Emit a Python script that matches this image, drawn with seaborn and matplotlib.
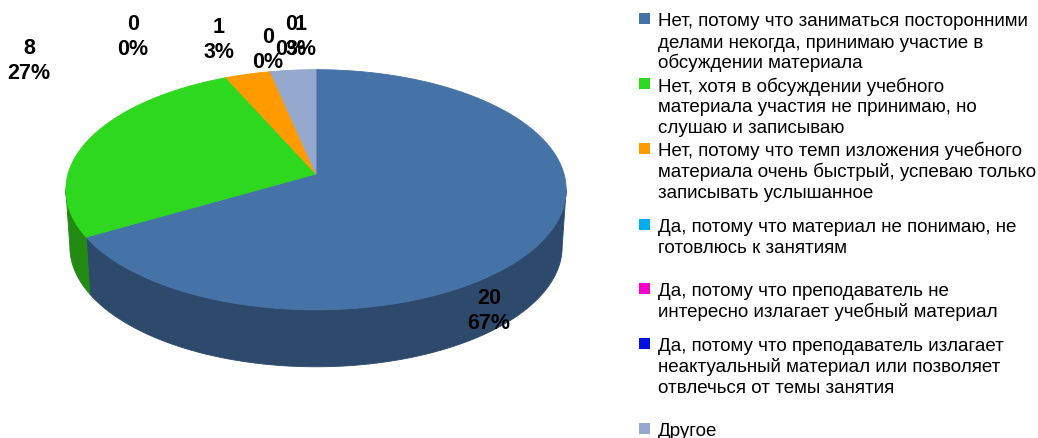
import numpy as np
import matplotlib
matplotlib.use("Agg")
import matplotlib.pyplot as plt
from matplotlib.patches import Polygon, Rectangle
import seaborn as sns

# Survey answers (legend order = slice order, clockwise from 12 o'clock)
categories = [
    "Нет, потому что заниматься посторонними\nделами некогда, принимаю участие в\nобсуждении материала",
    "Нет, хотя в обсуждении учебного\nматериала участия не принимаю, но\nслушаю и записываю",
    "Нет, потому что темп изложения учебного\nматериала очень быстрый, успеваю только\nзаписывать услышанное",
    "Да, потому что материал не понимаю, не\nготовлюсь к занятиям",
    "Да, потому что преподаватель не\nинтересно излагает учебный материал",
    "Да, потому что преподаватель излагает\nнеактуальный материал или позволяет\nотвлечься от темы занятия",
    "Другое",
]
counts = [20, 8, 1, 0, 0, 0, 1]

sns.set_theme(style="white")
plt.rcParams["font.family"] = ["Liberation Sans", "DejaVu Sans"]

top_colors = sns.color_palette(["#4572A7", "#2ED81F", "#FF9A00", "#00AEEF",
                                "#F500C8", "#0010E0", "#94A8CE"])
side_colors = sns.color_palette(["#2D4A6C", "#228A12", "#B86E00", "#007FAF",
                                 "#B00090", "#000CA0", "#6A7A98"])

# label anchors (pixel layout) for the value / percent captions
label_xy = [(489, 311), (29, 61), (219, 40), (133, 37), (268, 50), (291, 37), (301, 37)]
# legend first-line baselines
legend_y = [26.5, 91.5, 156.5, 232.5, 296.5, 351.5, 436.5]

W, H = 1038, 439
fig = plt.figure(figsize=(W / 100, H / 100), dpi=100)
ax = fig.add_axes([0, 0, 1, 1])
ax.set_xlim(0, W)
ax.set_ylim(H, 0)
ax.axis("off")

# perspective pie geometry (pixels)
CX, CY = 316.0, 175.0
RX, RY = 248.0, 118.0
K = 0.131
DEPTH = 57.0
SHRINK = 0.984


def project(t, bottom=False):
    X, Y = np.sin(t), np.cos(t)
    w = 1 + K * Y
    x = CX + RX * X / w
    y = CY - RY * Y / w
    if bottom:
        x = CX + SHRINK * (x - CX)
        y = y + DEPTH
    return x, y


total = sum(counts)
fracs = np.array(counts, dtype=float) / total
edges = np.concatenate([[0.0], np.cumsum(fracs)]) * 2 * np.pi

t_lo = np.arccos(-K)
t_hi = 2 * np.pi - t_lo

# visible front walls
for i in range(len(counts)):
    a0, a1 = max(edges[i], t_lo), min(edges[i + 1], t_hi)
    if a1 <= a0:
        continue
    ts = np.linspace(a0, a1, 200)
    xt, yt = project(ts)
    xb, yb = project(ts[::-1], bottom=True)
    pts = np.column_stack([np.concatenate([xt, xb]), np.concatenate([yt, yb])])
    ax.add_patch(Polygon(pts, closed=True, facecolor=side_colors[i],
                         edgecolor=side_colors[i], linewidth=0.6))

# top faces
for i in range(len(counts)):
    if counts[i] == 0:
        continue
    ts = np.linspace(edges[i], edges[i + 1], 300)
    xt, yt = project(ts)
    pts = np.column_stack([np.concatenate([[CX], xt]), np.concatenate([[CY], yt])])
    ax.add_patch(Polygon(pts, closed=True, facecolor=top_colors[i],
                         edgecolor=top_colors[i], linewidth=0.6))

# value / percent captions
for i, v in enumerate(counts):
    pct = int(round(100 * v / total))
    ax.text(label_xy[i][0], label_xy[i][1], f"{v}\n{pct}%", ha="center", va="center",
            fontsize=15.5, fontweight="bold", color="black", linespacing=1.22)

# legend
for i, cat in enumerate(categories):
    y0 = legend_y[i]
    ax.add_patch(Rectangle((639, y0 - 12.5), 11, 11, facecolor=top_colors[i], edgecolor="none"))
    for j, line in enumerate(cat.split("\n")):
        ax.text(658, y0 + 21 * j, line, ha="left", va="baseline",
                fontsize=13.5, color="black")

fig.savefig("out.png", dpi=100)
